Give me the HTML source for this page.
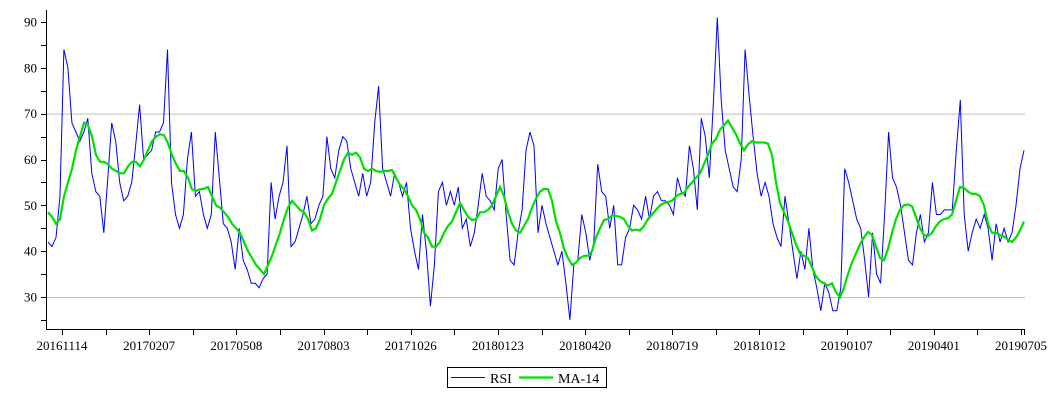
<!DOCTYPE html>
<html><head><meta charset="utf-8"><style>
html,body{margin:0;padding:0;background:#fff;}
svg{display:block;font-family:"Liberation Serif",serif;}
</style></head><body>
<svg id="chart" width="1056" height="400" viewBox="0 0 1056 400">
<g id="grid"></g>
<g id="yaxis"></g>
<g id="xaxis"></g>
<polyline id="rsi" fill="none" stroke="#0000ff" stroke-width="1"/>
<polyline id="ma" fill="none" stroke="#00e000" stroke-width="2.2"/>
<g>
<rect x="447.5" y="367.5" width="159" height="20" fill="#fff" stroke="#000"/>
<line x1="451" y1="377.5" x2="485" y2="377.5" stroke="#0000ff"/>
<text x="490" y="383" font-size="14">RSI</text>
<line x1="519" y1="377.5" x2="553" y2="377.5" stroke="#00e000" stroke-width="2.2"/>
<text x="558" y="383" font-size="14">MA-14</text>
</g>
</svg>
<script>
const yTicks = [30,40,50,60,70,80,90];
const gridValues = [30,70];
const xTickLabels = ["20161114","20170207","20170508","20170803","20171026","20180123","20180420","20180719","20181012","20190107","20190401","20190705"];
const rsiValues = [
42,41,43,52,84,80,68,66,64,66,69,57,53,52,44,56,68,64,55,51,52,55,63,72,60,61,62,66,66,68,84,55,48,45,48,60,66,52,53,48,45,48,66,56,46,45,42,36,45,38,
36,33,33,32,34,35,55,47,52,55,63,41,42,45,48,52,46,47,50,52,65,58,56,62,65,64,58,55,52,57,52,55,68,76,58,55,52,57,55,52,55,45,40,36,48,40,28,37,53,
55,50,53,50,54,45,47,41,44,50,57,52,51,49,58,60,48,38,37,44,49,62,66,63,44,50,46,43,40,37,40,33,25,37,38,48,44,38,42,59,53,52,45,50,37,37,43,45,50,
49,47,52,47,52,53,51,51,50,48,56,53,52,63,58,49,69,65,56,72,91,73,62,58,54,53,60,84,74,65,57,52,55,52,46,43,41,52,46,40,34,40,36,45,36,32,27,33,31,
27,27,32,58,55,51,47,45,38,30,44,35,33,48,66,56,54,50,44,38,37,44,48,42,44,55,48,48,49,49,49,62,73,48,40,44,47,45,48,45,38,46,42,45,42,44,50,58,62
];
const maValues = [
48.5,47.5,46,47,52,55,58,62,65,68,67.5,65,61,59.5,59.5,59,58,57.5,57,57,58.5,59.5,59.5,58.5,60,62,64,65,65.5,65.3,63.5,61,59,57.5,57.5,56,53.5,53.2,53.5,53.6,54,52,50,49.5,48.5,47.5,46,45,44,42,
40,38.5,37,36,35,37,39,41.5,44,47,49.5,51,50,49,48.5,47,44.5,45,47,50,51.5,52.5,55,57.5,60,61.5,61,61.5,60.5,58,57.5,58,57.5,57.3,57.5,57.5,57.7,56,54.5,53.5,52,50,49,47,44,43,41,41,
42,44,45.5,46.5,48.5,50.5,49,47.5,46.8,47,48.5,48.5,49,50,52,54,52,48.5,46,44.5,44,45.5,47,49.5,51.5,53,53.6,53.5,51,46.5,44,40.5,38.5,37,37.5,38.5,39,39,40,43,45,46.8,47,47.8,47.7,47.5,47,45.5,44.5,
44.7,44.5,45.5,47,48,49,50,50.5,50.7,51,52,52.5,52.7,54,55,56,57,59,61,63.5,64.5,66.5,67.5,68.5,67,65.5,63.5,62,63.3,64,63.7,63.7,63.7,63.5,61,55,50.5,48.5,46.5,44,41.5,39.5,39,38.5,36.5,34.5,33.5,33,32.5,
33,31,30,32,35,37.5,39.5,41.5,43,44.2,43.5,41,38.5,38,40.5,44,47,49,50,50.2,49.8,47.5,45,43.5,43.3,44,45.5,46.5,47,47.2,48,51,54,53.8,53,52.5,52.5,52,50,46,44,44,43.5,43.2,42.5,42,43,44.5,46.5
];
const NS='http://www.w3.org/2000/svg';
const X0=48, X1=1024, AXL=46, AXB=329;
function yScale(v){return 297-(v-30)*(275/60);}
function xIdx(i,n){return X0+i*(X1-X0)/(n-1);}
function xTick(i){return 62+i*(1021-62)/(xTickLabels.length-1);}
function mk(tag,attrs,parent){const e=document.createElementNS(NS,tag);for(const k in attrs)e.setAttribute(k,attrs[k]);parent.appendChild(e);return e;}
const grid=document.getElementById('grid'), ya=document.getElementById('yaxis'), xa=document.getElementById('xaxis');
gridValues.forEach(v=>{
  const l=mk('line',{x1:AXL+1,x2:1025,y1:yScale(v)+0.5,y2:yScale(v)+0.5,stroke:'#c0c0c0'},grid);
  
  
});
const yl=mk('line',{x1:AXL+0.5,x2:AXL+0.5,y1:10,y2:AXB,stroke:'#000'},ya);


for(let v=25;v<=90;v+=5){
  const t=mk('line',{x1:AXL-5,x2:AXL,y1:Math.round(yScale(v))+0.5,y2:Math.round(yScale(v))+0.5,stroke:'#000'},ya);
  
  
}
yTicks.forEach(v=>{
  const t=mk('text',{x:AXL-9,y:yScale(v)+4.5,'text-anchor':'end','font-size':'13'},ya);
  t.textContent=v;
  
  
});
const xl=mk('line',{x1:AXL,x2:1025,y1:AXB+0.5,y2:AXB+0.5,stroke:'#000'},xa);


for(let k=0;k<=2*(xTickLabels.length-1);k++){
  const x=Math.round(62+k*(1021-62)/(2*(xTickLabels.length-1)))+0.5;
  const t=mk('line',{x1:x,x2:x,y1:AXB,y2:AXB+6,stroke:'#000'},xa);
  
  
}
const te=mk('line',{x1:1024.5,x2:1024.5,y1:AXB,y2:AXB+6,stroke:'#000'},xa);


xTickLabels.forEach((s,i)=>{
  const t=mk('text',{x:xTick(i),y:350,'text-anchor':'middle','font-size':'13'},xa);
  t.textContent=s;
  
  
});
document.getElementById('rsi').setAttribute('points',rsiValues.map((v,i)=>xIdx(i,rsiValues.length).toFixed(1)+','+yScale(v).toFixed(1)).join(' '));
document.getElementById('ma').setAttribute('points',maValues.map((v,i)=>xIdx(i,maValues.length).toFixed(1)+','+yScale(v).toFixed(1)).join(' '));
</script>
</body></html>
